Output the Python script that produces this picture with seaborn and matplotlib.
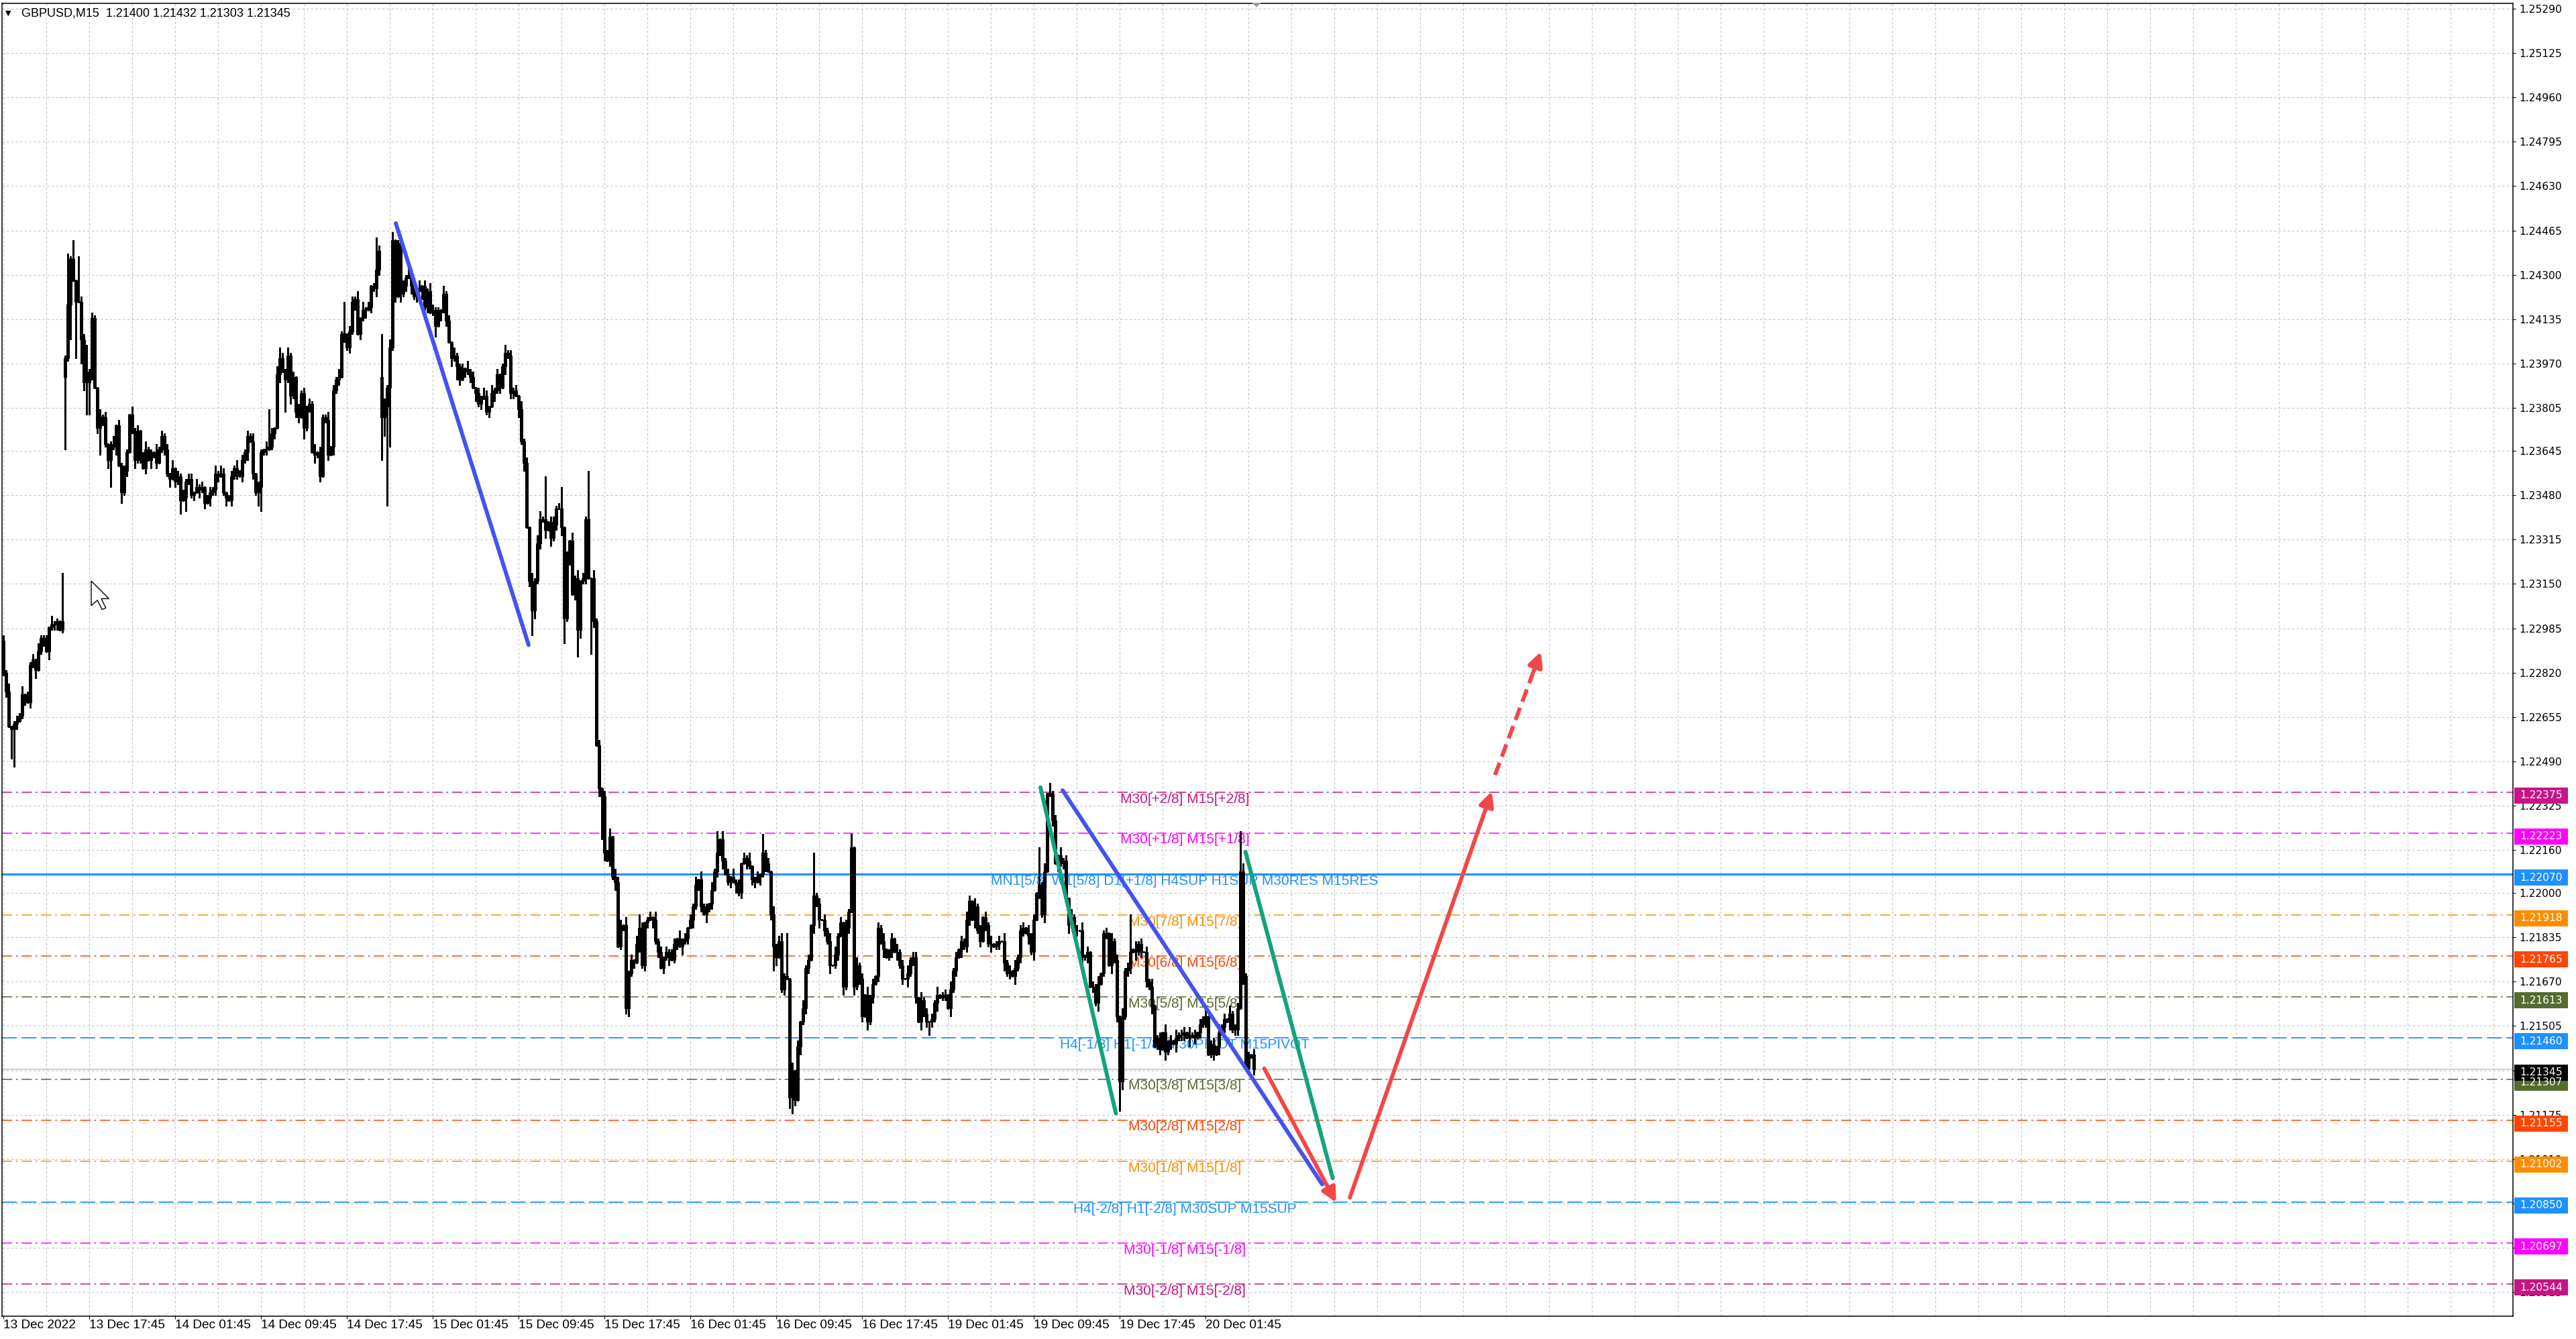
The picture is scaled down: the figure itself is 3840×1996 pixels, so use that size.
import matplotlib
matplotlib.use("Agg")
import matplotlib.pyplot as plt
import matplotlib.transforms as mtrans
from matplotlib.patches import Rectangle, Polygon
import seaborn as sns

# ---------------- DATA ----------------
BASE = 1.2  # closes are given in pips above 1.20000
closes = [
    282, 275, 262, 261, 263, 264, 266, 274, 273, 271,
    285, 287, 283, 290, 295, 294, 290, 299, 300, 300,
    301, 298, 301, 399, 419, 436, 428, 420, 420, 406,
    390, 390, 394, 414, 388, 373, 377, 377, 367, 361,
    367, 366, 374, 359, 349, 357, 364, 378, 372, 361,
    372, 363, 358, 365, 361, 363, 364, 360, 365, 370,
    365, 356, 354, 358, 353, 355, 346, 347, 353, 354,
    348, 349, 351, 350, 351, 345, 347, 349, 350, 356,
    355, 356, 349, 347, 346, 355, 358, 357, 355, 361,
    364, 370, 368, 356, 349, 351, 364, 365, 365, 366,
    371, 373, 393, 399, 394, 391, 400, 385, 392, 379,
    377, 386, 373, 381, 382, 364, 363, 364, 355, 377,
    376, 363, 366, 387, 391, 392, 408, 408, 403, 409,
    420, 421, 408, 414, 417, 417, 418, 426, 425, 432,
    439, 377, 381, 388, 403, 443, 422, 442, 423, 426,
    429, 430, 426, 422, 425, 424, 426, 418, 424, 416,
    417, 411, 416, 417, 423, 413, 405, 399, 400, 396,
    391, 395, 395, 394, 392, 388, 386, 382, 384, 385,
    379, 381, 386, 387, 393, 388, 396, 401, 400, 386,
    387, 385, 380, 368, 360, 336, 316, 305, 316, 330,
    339, 339, 335, 338, 332, 337, 343, 343, 336, 302,
    325, 331, 311, 317, 298, 316, 317, 339, 317, 317,
    301, 255, 239, 236, 215, 212, 221, 206, 204, 180,
    188, 188, 157, 170, 175, 174, 181, 187, 173, 189,
    190, 191, 190, 182, 178, 172, 176, 178, 176, 175,
    181, 183, 180, 182, 183, 187, 190, 195, 203, 205,
    195, 192, 194, 196, 201, 208, 215, 220, 212, 207,
    204, 206, 204, 203, 200, 211, 213, 212, 210, 205,
    204, 206, 207, 215, 211, 208, 192, 180, 176, 182,
    164, 169, 168, 124, 134, 123, 143, 152, 157, 172,
    175, 188, 199, 196, 190, 190, 186, 182, 173, 173,
    177, 184, 189, 165, 187, 193, 217, 165, 173, 168,
    154, 162, 152, 161, 166, 169, 187, 182, 179, 176,
    178, 183, 178, 178, 173, 168, 168, 170, 175, 176,
    161, 152, 160, 155, 152, 152, 153, 159, 162, 161,
    162, 162, 157, 164, 171, 176, 179, 182, 180, 190,
    197, 190, 195, 186, 182, 191, 188, 181, 181, 180,
    181, 182, 182, 174, 170, 171, 169, 172, 176, 186,
    187, 185, 184, 178, 190, 200, 203, 192, 208, 237,
    237, 227, 211, 214, 211, 212, 198, 188, 191, 186,
    186, 186, 176, 176, 178, 165, 165, 159, 166, 170,
    185, 185, 173, 182, 175, 154, 130, 154, 171, 172,
    178, 179, 178, 181, 178, 178, 167, 165, 158, 143,
    146, 142, 148, 141, 144, 145, 144, 146, 147, 147,
    148, 146, 147, 147, 146, 148, 151, 153, 154, 140,
    144, 140, 143, 148, 150, 153, 152, 155, 149, 149,
    157, 208, 169, 135, 139, 140, 134.5,
]
open_gaps = {0: 294, 23: 392, 141: 392}
upper_wick = "".join([
    "2130121302", "1203112031", "1021312012", "2312103120", "1302121031",
    "2013120312", "1203021312", "2031201213", "1320121302", "1213021031",
    "2031213120", "3120213021", "1302131202", "2130312013", "2031320132",
    "1302130213", "2120312031", "1203120213", "2031201312", "1203120313",
    "3120231203", "2031302130", "3120213032", "2031203120", "1203120213",
    "2031202130", "3120312031", "2031202130", "1203120312", "3120302031",
    "2031202130", "3120312031", "2031202130", "1203120312", "2031202130",
    "1203120213", "2031202130", "1203120312", "2031202130", "3120312031",
    "2031202130", "1203120312", "2031202130", "1203120312", "2031202130",
    "1203120312", "2031202",
])
lower_wick = "".join([
    "1201320130", "2130120312", "2013120302", "1203021312", "2130212013",
    "1302031201", "2130213021", "1203120312", "2013021302", "1302130120",
    "1203021312", "2031203120", "1203120312", "1302130213", "2130312031",
    "2031203120", "1203120312", "2031203120", "1203120312", "2031302131",
    "2130312031", "1302131203", "2031302130", "1203120312", "2031202130",
    "1203120312", "2031202130", "1203120312", "2031302130", "1203120312",
    "2031302130", "1203120312", "2031202130", "1203120312", "2031202130",
    "1203120312", "2031202130", "1203120312", "2031302130", "1203120312",
    "2031202130", "1203120312", "2031202130", "1203120312", "2031202130",
    "1203120312", "2031202",
])
high_marks = {22: 319, 24: 438, 26: 443, 28: 437, 31: 404, 99: 380, 103: 403,
              127: 420, 139: 444, 141: 408, 145: 446, 164: 426, 202: 355,
              208: 351, 209: 328, 218: 357, 237: 192, 266: 223, 283: 222,
              292: 185, 302: 215, 316: 222, 386: 217, 390: 241, 420: 192,
              461: 223}
low_marks = {3: 250, 4: 247, 23: 365, 25: 406, 27: 399, 29: 397, 30: 387,
             31: 378, 32: 378, 36: 363, 39: 358, 40: 351, 44: 345, 66: 341,
             68: 342, 95: 344, 96: 342, 105: 379, 112: 369, 141: 361, 142: 370,
             143: 344, 144: 366, 161: 407, 169: 391, 181: 377, 197: 296,
             209: 293, 214: 288, 219: 289, 223: 220, 232: 155, 287: 171,
             293: 120, 294: 118, 345: 147, 416: 119}

level_prices = [1.22375, 1.22223, 1.22070, 1.21918, 1.21765, 1.21613, 1.21460,
                1.21307, 1.21155, 1.21002, 1.20850, 1.20697, 1.20544]
level_texts = ["M30[+2/8] M15[+2/8]", "M30[+1/8] M15[+1/8]",
               "MN1[5/8] W1[5/8] D1[+1/8] H4SUP H1SUP M30RES M15RES",
               "M30[7/8] M15[7/8]", "M30[6/8] M15[6/8]", "M30[5/8] M15[5/8]",
               "H4[-1/8] H1[-1/8] M30PIVOT M15PIVOT",
               "M30[3/8] M15[3/8]", "M30[2/8] M15[2/8]", "M30[1/8] M15[1/8]",
               "H4[-2/8] H1[-2/8] M30SUP M15SUP",
               "M30[-1/8] M15[-1/8]", "M30[-2/8] M15[-2/8]"]
level_colors = ["#C71585", "#FF00FF", "#1E90FF", "#FF8C00", "#FF4500", "#556B2F",
                "#1E90FF", "#556B2F", "#FF4500", "#FF8C00", "#1E90FF", "#FF00FF",
                "#C71585"]
level_kinds = ["dashdot", "dashdot", "solid", "dashdot", "dashdot", "dashdot",
               "dashed", "dashdot", "dashdot", "dashdot", "dashed", "dashdot",
               "dashdot"]
current_price = 1.21345

ytick_labels = ["1.25290", "1.25125", "1.24960", "1.24795", "1.24630", "1.24465",
                "1.24300", "1.24135", "1.23970", "1.23805", "1.23645", "1.23480",
                "1.23315", "1.23150", "1.22985", "1.22820", "1.22655", "1.22490",
                "1.22325", "1.22160", "1.22000", "1.21835", "1.21670", "1.21505",
                "1.21340", "1.21175", "1.21010", "1.20845", "1.20680", "1.20515"]
xtick_bars = [0, 32, 64, 96, 128, 160, 192, 224, 256, 288, 320, 352, 384, 416, 448]
xtick_labels = ["13 Dec 2022", "13 Dec 17:45", "14 Dec 01:45", "14 Dec 09:45",
                "14 Dec 17:45", "15 Dec 01:45", "15 Dec 09:45", "15 Dec 17:45",
                "16 Dec 01:45", "16 Dec 09:45", "16 Dec 17:45", "19 Dec 01:45",
                "19 Dec 09:45", "19 Dec 17:45", "20 Dec 01:45"]
title_text = "GBPUSD,M15  1.21400 1.21432 1.21303 1.21345"

# drawn trend objects (bar index, price)
blue1_x, blue1_y = [146.25, 195.75], [1.24492, 1.22923]
blue2_x, blue2_y = [394.75, 491.5], [1.22382, 1.20916]
green1_x, green1_y = [386.5, 414.6], [1.22393, 1.21180]
green2_x, green2_y = [462.9, 495.4], [1.22153, 1.20939]
red1_x, red1_y = [469.9, 496.7], [1.21347, 1.20848]
red2_x, red2_y = [501.8, 554.7], [1.20867, 1.22378]
red3_x, red3_y = [555.9, 573.0], [1.22439, 1.22898]

# ---------------- STYLE / LAYOUT ----------------
sns.set_theme(style="white")
plt.rcParams["font.family"] = ["Liberation Sans", "DejaVu Sans"]
plt.rcParams["lines.scale_dashes"] = False

W, H = 3840, 1996
L, R, T, B = 3, 3746, 5, 1962
PX = 2.496e-5            # price per pixel
ANCHOR_P, ANCHOR_Y = 1.22070, 1303.1
Y_TOP = ANCHOR_P + (ANCHOR_Y - T) * PX
Y_BOT = ANCHOR_P - (B - ANCHOR_Y) * PX
X_MAX = (R - 5) / 4.0

fig = plt.figure(figsize=(W / 100, H / 100), dpi=100, facecolor="white")
ax = fig.add_axes([L / W, 1 - B / H, (R - L) / W, (B - T) / H])
ax.set_facecolor("white")

GRID = "#C0C0C0"
for lab in ytick_labels:
    ax.axhline(float(lab), color=GRID, lw=0.75, ls=(0, (2.4, 2.4)), zorder=0.5)
for b in range(0, int(X_MAX) + 1, 16):
    ax.axvline(b, color=GRID, lw=0.75, ls=(0, (2.4, 2.4)), zorder=0.5)

# Murrey math levels
for p, t, c, k in zip(level_prices, level_texts, level_colors, level_kinds):
    if k == "solid":
        ax.axhline(p, color=c, lw=2.2, ls="-", zorder=1)
    elif k == "dashed":
        ax.axhline(p, color=c, lw=1.3, ls=(0, (16, 5)), zorder=1)
    else:
        ax.axhline(p, color=c, lw=1.1, ls=(0, (11, 4, 2, 4)), zorder=1)
    ax.annotate(t, xy=(440.25, p), xytext=(0, -0.5), textcoords="offset points",
                ha="center", va="top", color=c, fontsize=15, zorder=2)
ax.axhline(current_price, color="#C0C0C0", lw=1.1, zorder=1)

# candles
n = len(closes)
opens, highs, lows = [], [], []
for i in range(n):
    o = open_gaps.get(i, closes[i - 1] if i > 0 else closes[0])
    c = closes[i]
    hi = max(o, c) + int(upper_wick[i])
    lo = min(o, c) - int(lower_wick[i])
    if i in high_marks:
        hi = max(high_marks[i], o, c)
    if i in low_marks:
        lo = min(low_marks[i], o, c)
    opens.append(o); highs.append(hi); lows.append(lo)

xs = list(range(n))
to_p = lambda v: BASE + v / 10000.0
ax.vlines(xs, [to_p(v) for v in lows], [to_p(v) for v in highs],
          color="black", lw=0.8, zorder=3, antialiased=False)
bottoms = [to_p(min(o, c)) for o, c in zip(opens, closes)]
heights = [max(abs(c - o), 0.15) / 10000.0 for o, c in zip(opens, closes)]
faces = ["white" if c > o else "black" for o, c in zip(opens, closes)]
ax.bar(xs, heights, bottom=bottoms, width=0.72, color=faces, edgecolor="black",
       linewidth=0.8, zorder=4, antialiased=False)

# trend lines
BLUE, GREEN, RED = "#4352F0", "#13A27E", "#F24747"
LW = 4.3
for xx, yy, col in [(blue1_x, blue1_y, BLUE), (blue2_x, blue2_y, BLUE),
                    (green1_x, green1_y, GREEN), (green2_x, green2_y, GREEN)]:
    sns.lineplot(x=xx, y=yy, ax=ax, color=col, lw=LW, zorder=6,
                 solid_capstyle="round", legend=False)
arrow_style = "-|>,head_length=0.65,head_width=0.32"
for xx, yy in [(red1_x, red1_y), (red2_x, red2_y)]:
    ax.annotate("", xy=(xx[1], yy[1]), xytext=(xx[0], yy[0]),
                arrowprops=dict(arrowstyle=arrow_style, color=RED, lw=LW,
                                shrinkA=0, shrinkB=0, mutation_scale=20,
                                capstyle="round"),
                zorder=7)
# dashed arrow: dashed shaft + solid head
f = 0.80
mid_x = red3_x[0] + f * (red3_x[1] - red3_x[0])
mid_y = red3_y[0] + f * (red3_y[1] - red3_y[0])
ax.plot([red3_x[0], mid_x], [red3_y[0], mid_y], color=RED, lw=LW, zorder=7,
        dashes=(14, 7), dash_capstyle="butt")
ax.annotate("", xy=(red3_x[1], red3_y[1]), xytext=(mid_x, mid_y),
            arrowprops=dict(arrowstyle=arrow_style, color=RED, lw=LW,
                            shrinkA=0, shrinkB=0, mutation_scale=20),
            zorder=7)

# axes styling
ax.yaxis.tick_right()
ax.set_yticks([float(s) for s in ytick_labels])
ax.set_yticklabels(ytick_labels, family=["DejaVu Sans"])
ax.set_xticks(xtick_bars)
ax.set_xticklabels(xtick_labels, ha="left")
ax.tick_params(axis="y", direction="out", length=3, width=0.8, pad=3.5,
               labelsize=11.2, colors="black", right=True, left=False)
ax.tick_params(axis="x", direction="out", length=3, width=0.8, pad=0.5,
               labelsize=13.7, colors="black", bottom=True)
for s in ax.spines.values():
    s.set_color("black")
    s.set_linewidth(1.1)
ax.grid(False)

# price boxes on the right scale (drawn slightly below their level like MT4)
trans = mtrans.blended_transform_factory(fig.transFigure, ax.transData)
hh = 12 * PX
shift = 5 * PX
box_prices = level_prices + [current_price]
box_colors = level_colors + ["black"]
for p, c in zip(box_prices, box_colors):
    ax.add_patch(Rectangle((3748 / W, p - shift - hh), 80 / W, 2 * hh,
                           transform=trans, facecolor=c, edgecolor="none",
                           clip_on=False, zorder=10))
    ax.text(3788 / W, p - shift, f"{p:.5f}", transform=trans, ha="center",
            va="center", color="white", fontsize=11.2, family=["DejaVu Sans"],
            zorder=11, clip_on=False)
ax.set_xlim(-0.5, X_MAX)
ax.set_ylim(Y_BOT, Y_TOP)

# mouse cursor and chart-shift marker (screen decorations)
cur = [(0, 0), (0, 16), (4, 12.5), (7, 18.5), (9.5, 17.5), (6.5, 11.5), (11.5, 11.5)]
cx, cy, cs = 136, 866, 2.3
fig.patches.append(Polygon([((cx + u * cs) / W, 1 - (cy + v * cs) / H) for u, v in cur],
                           closed=True, facecolor="white", edgecolor="black",
                           linewidth=1.0, transform=fig.transFigure, figure=fig,
                           zorder=20))
fig.patches.append(Polygon([(1866 / W, 1 - 4 / H), (1880 / W, 1 - 4 / H),
                            (1873 / W, 1 - 11 / H)], closed=True,
                           facecolor="#A0A0A0", edgecolor="none",
                           transform=fig.transFigure, figure=fig, zorder=20))

# title
fig.text(8 / W, 1 - 20 / H, "\u25BC", fontsize=8, family=["DejaVu Sans"],
         va="center", ha="left", color="black")
fig.text(32 / W, 1 - 20 / H, title_text, fontsize=13, va="center", ha="left",
         color="black")

fig.savefig("out.png", dpi=100, facecolor="white")
